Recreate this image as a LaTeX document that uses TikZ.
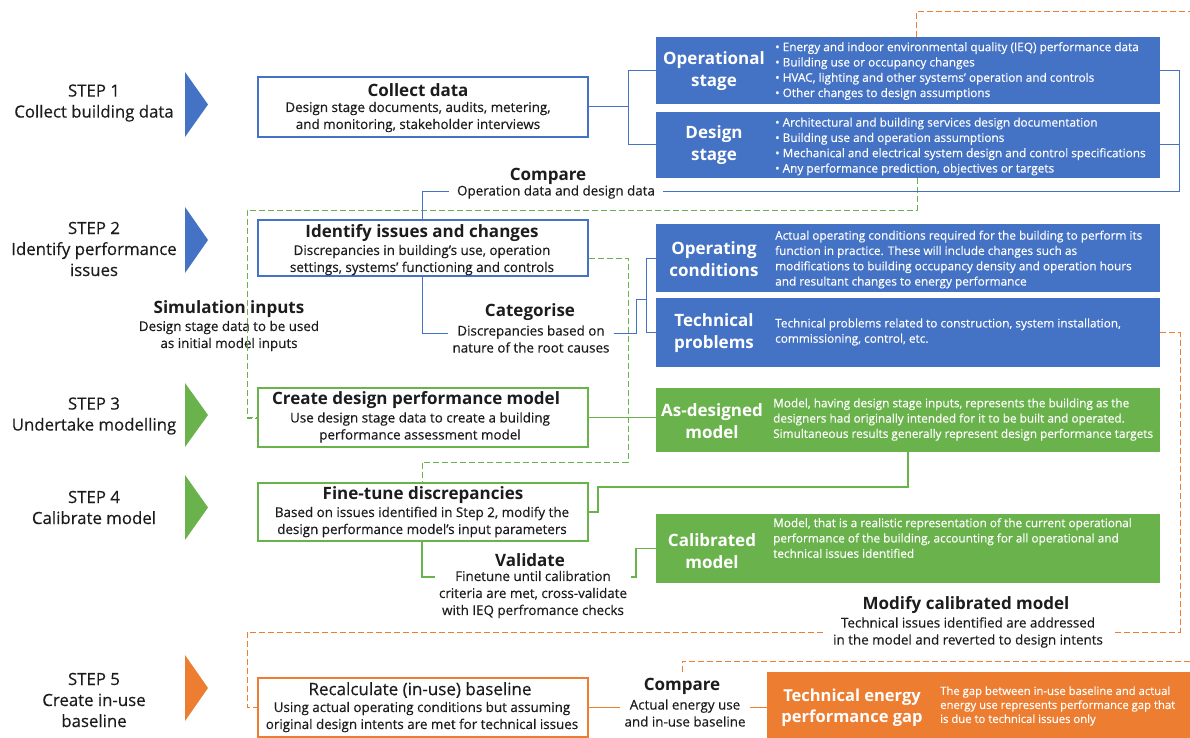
\documentclass[tikz,border=0pt]{standalone}
\usepackage{fontspec}
\setmainfont{Open Sans}[UprightFeatures={FakeBold=0.35}]
\definecolor{ink}{RGB}{28,28,30}
\definecolor{blueC}{RGB}{68,114,196}
\definecolor{greenC}{RGB}{106,178,76}
\definecolor{orangeC}{RGB}{237,125,49}
\begin{document}
\begin{tikzpicture}[x=1pt,y=-1pt,
  steplbl/.style={font=\fontsize{16.8}{21}\selectfont, align=center, text=ink, inner sep=0pt},
  ttl/.style={font=\fontsize{17}{18}\selectfont\bfseries, text=ink, inner sep=0pt},
  dsc/.style={font=\fontsize{13.4}{17}\selectfont, align=center, text=ink, inner sep=0pt},
  wbox/.style={draw=#1, fill=white, line width=1.3pt, minimum width=330pt, inner sep=0pt},
  cbox/.style={fill=#1, minimum width=504pt, inner sep=0pt},
  ctitle/.style={font=\fontsize{17}{22}\selectfont\bfseries, text=white, align=center, inner sep=0pt},
  cdesc/.style={font=\fontsize{11.8}{15.3}\selectfont, text=white, align=left, anchor=west, inner sep=0pt},
  bline/.style={draw=blueC, line width=1pt},
  gline/.style={draw=greenC, line width=1.1pt},
  oline/.style={draw=orangeC, line width=1.1pt},
  gdash/.style={draw=greenC, line width=1pt, dash pattern=on 6pt off 3pt},
  odash/.style={draw=orangeC, line width=1pt, dash pattern=on 6pt off 3pt}]
\useasboundingbox (0,0) rectangle (1190,738);

% ---------- step column ----------
\node[steplbl] (s1) at (94,103) {STEP 1\\Collect building data};
\node[steplbl] (s2) at (94,249) {STEP 2\\Identify performance\\issues};
\node[steplbl] (s3) at (94,416) {STEP 3\\Undertake modelling};
\node[steplbl] (s4) at (94,507.5) {STEP 4\\Calibrate model};
\node[steplbl] (s5) at (94,700) {STEP 5\\Create in-use\\baseline};
\fill[blueC]   (185,72)  -- (208,104.5) -- (185,137) -- cycle;
\fill[blueC]   (185,207) -- (208,240)   -- (185,273) -- cycle;
\fill[greenC]  (185,383) -- (208,415)   -- (185,447) -- cycle;
\fill[greenC]  (185,475) -- (208,507.5) -- (185,540) -- cycle;
\fill[orangeC] (185,655) -- (208,688)   -- (185,721) -- cycle;

% ---------- helper points for the elbow connectors ----------
\coordinate (j1) at (628,107);
\coordinate (j2) at (1179,191);
\coordinate (k1) at (422,191);
\coordinate (k2) at (422,333);
\coordinate (k3) at (636,333);
\coordinate (k4) at (646,299);
\coordinate (g1) at (598,487);
\coordinate (g2) at (422,577);
\coordinate (g3) at (636,577);
\coordinate (d1) at (917,210);
\coordinate (d2) at (247,210);
\coordinate (d3) at (628,462);
\coordinate (o1) at (916,12);
\coordinate (o1r) at (1195,12);
\coordinate (o2) at (1180,632);
\coordinate (o3) at (247,632);
\coordinate (o4) at (682,661);
\coordinate (o4r) at (1195,661);

% ---------- free labels ----------
\node[ttl] (cmp1t) at (548,176) {Compare};
\node[dsc] (cmp1d) at (556,192) {Operation data and design data};
\node[ttl] (simt) at (229,309) {Simulation inputs};
\node[dsc] (simd) at (229,336) {Design stage data to be used\\as initial model inputs};
\node[ttl] (catt) at (530,312) {Categorise};
\node[dsc] (catd) at (531,339) {Discrepancies based on\\nature of the root causes};
\node[ttl] (valt) at (530,560) {Validate};
\node[dsc] (vald) at (533,594.5) {Finetune until calibration\\criteria are met, cross-validate\\with IEQ perfromance checks};
\node[ttl] (modt) at (966,605) {Modify calibrated model};
\node[dsc] (modd) at (968,632.5) {Technical issues identified are addressed\\in the model and reverted to design intents};
\node[ttl] (cmp2t) at (682,686) {Compare};
\node[dsc] (cmp2d) at (685,713) {Actual energy use\\and in-use baseline};

% ---------- dashed feedback lines ----------
\draw[gdash] (d1 |- 0,178) -- (d1) -- (d2) |- (388,418);
\draw[odash] (o1 |- 0,37) -- (o1) -- (o1r);
\draw[odash] (o4 |- 0,672) -- (o4) -- (o4r);

% ---------- white step boxes ----------
\node[wbox=blueC, minimum height=60pt] (collect) at (423,107) {};
\node[ttl] at (418,90) {Collect data};
\node[dsc] at (418,117) {Design stage documents, audits, metering,\\and monitoring, stakeholder interviews};

\node[wbox=blueC, minimum height=56pt] (identify) at (423,248) {};
\node[ttl] at (422,233) {Identify issues and changes};
\node[dsc] at (422,260) {Discrepancies in building’s use, operation\\settings, systems’ functioning and controls};

\node[wbox=greenC, minimum height=59pt] (create) at (423,417.5) {};
\node[ttl] at (416,400) {Create design performance model};
\node[dsc] at (420,427.5) {Use design stage data to create a building\\performance assessment model};

\node[wbox=greenC, minimum height=58pt] (finet) at (423,512) {};
\node[ttl] at (423,495) {Fine-tune discrepancies};
\node[dsc] at (422,522) {Based on issues identified in Step 2, modify the\\design performance model’s input parameters};

\node[wbox=orangeC, minimum height=59pt] (recalc) at (423,707.5) {};
\node[ttl, font=\fontsize{17}{18}\selectfont] at (420,690) {Recalculate (in-use) baseline};
\node[dsc] at (422,717) {Using actual operating conditions but assuming\\original design intents are met for technical issues};

% ---------- coloured description boxes ----------
\node[cbox=blueC, minimum height=67pt] (opst) at (908,70.5) {};
\node[ctitle] at (714,71) {Operational\\stage};
\node[cdesc] at (775,71) {• Energy and indoor environmental quality (IEQ) performance data\\• Building use or occupancy changes\\• HVAC, lighting and other systems’ operation and controls\\• Other changes to design assumptions};

\node[cbox=blueC, minimum height=66pt] (desst) at (908,145) {};
\node[ctitle] at (714,145) {Design\\stage};
\node[cdesc] at (775,146.5) {• Architectural and building services design documentation\\• Building use and operation assumptions\\• Mechanical and electrical system design and control specifications\\• Any performance prediction, objectives or targets};

\node[cbox=blueC, minimum height=68pt] (opcond) at (908,258) {};
\node[ctitle] at (714,259) {Operating\\conditions};
\node[cdesc] at (775,259.5) {Actual operating conditions required for the building to perform its\\function in practice. These will include changes such as\\modifications to building occupancy density and operation hours\\and resultant changes to energy performance};

\node[cbox=blueC, minimum height=69pt] (techp) at (908,332.5) {};
\node[ctitle] at (714,333) {Technical\\problems};
\node[cdesc] at (775,332) {Technical problems related to construction, system installation,\\commissioning, control, etc.};

\node[cbox=greenC, minimum height=64pt] (asdes) at (908,420) {};
\node[ctitle] at (712,421) {As-designed\\model};
\node[cdesc] at (773,419.5) {Model, having design stage inputs, represents the building as the\\designers had originally intended for it to be built and operated.\\Simultaneous results generally represent design performance targets};

\node[cbox=greenC, minimum height=69pt] (calib) at (908,548.5) {};
\node[ctitle] at (712,551) {Calibrated\\model};
\node[cdesc] at (773,538) {Model, that is a realistic representation of the current operational\\performance of the building, accounting for all operational and\\technical issues identified};

\node[fill=orangeC, minimum width=430pt, minimum height=68pt, inner sep=0pt] (gap) at (982,706) {};
\node[ctitle, font=\fontsize{16.5}{21}\selectfont\bfseries] at (852,707.5) {Technical energy\\performance gap};
\node[cdesc, font=\fontsize{11.3}{14}\selectfont] at (940,706) {The gap between in-use baseline and actual\\energy use represents performance gap that\\is due to technical issues only};

% ---------- blue connectors ----------
\draw[bline] (collect.east) -- (j1);
\draw[bline] (opst.west) -| (j1);
\draw[bline] (desst.west) -| (j1);
\draw[bline] (opst.east) -| (j2) -- ([xshift=8pt]cmp1d.east |- j2);
\draw[bline] (desst.east) -- (desst.east -| j2);
\draw[bline] ([xshift=-8pt]cmp1d.west |- k1) -- (k1) -- (k1 |- identify.north);
\draw[bline] (k2 |- identify.south) -- (k2) -- ([xshift=-4pt]catd.west |- k2);
\draw[bline] ([xshift=4pt]catd.east |- k2) -- (k3) -- (k3 |- k4) -- (k4);
\draw[bline] (opcond.west) -| (k4);
\draw[bline] (techp.west) -| (k4);

% ---------- green connectors ----------
\draw[gline] (create.east) -- (create.east -| asdes.west);
\draw[gline] (finet.east) -| (g1) -| (asdes.south);
\draw[gline] (g2 |- finet.south) -- (g2) -- ([xshift=-4pt]vald.west |- g2);
\draw[gline] ([xshift=4pt]vald.east |- g2) -- (g3) |- (calib.west);
\draw[gdash] ([yshift=-10pt]identify.east) -| (d3) -| (k1 |- finet.north);
\draw[gdash] (d2 |- create.west) -- (create.west);

% ---------- orange connectors ----------
\draw[odash] (techp.east) -| (o2) -- ([xshift=10pt]modd.east |- o2);
\draw[odash] ([xshift=-10pt]modd.west |- o3) -- (o3) |- (recalc.west);
\draw[oline] (recalc.east) -- ([xshift=-4pt]cmp2d.west |- recalc.east);
\draw[oline] ([xshift=4pt]cmp2d.east |- recalc.east) -- (gap.west |- recalc.east);
\end{tikzpicture}
\end{document}
